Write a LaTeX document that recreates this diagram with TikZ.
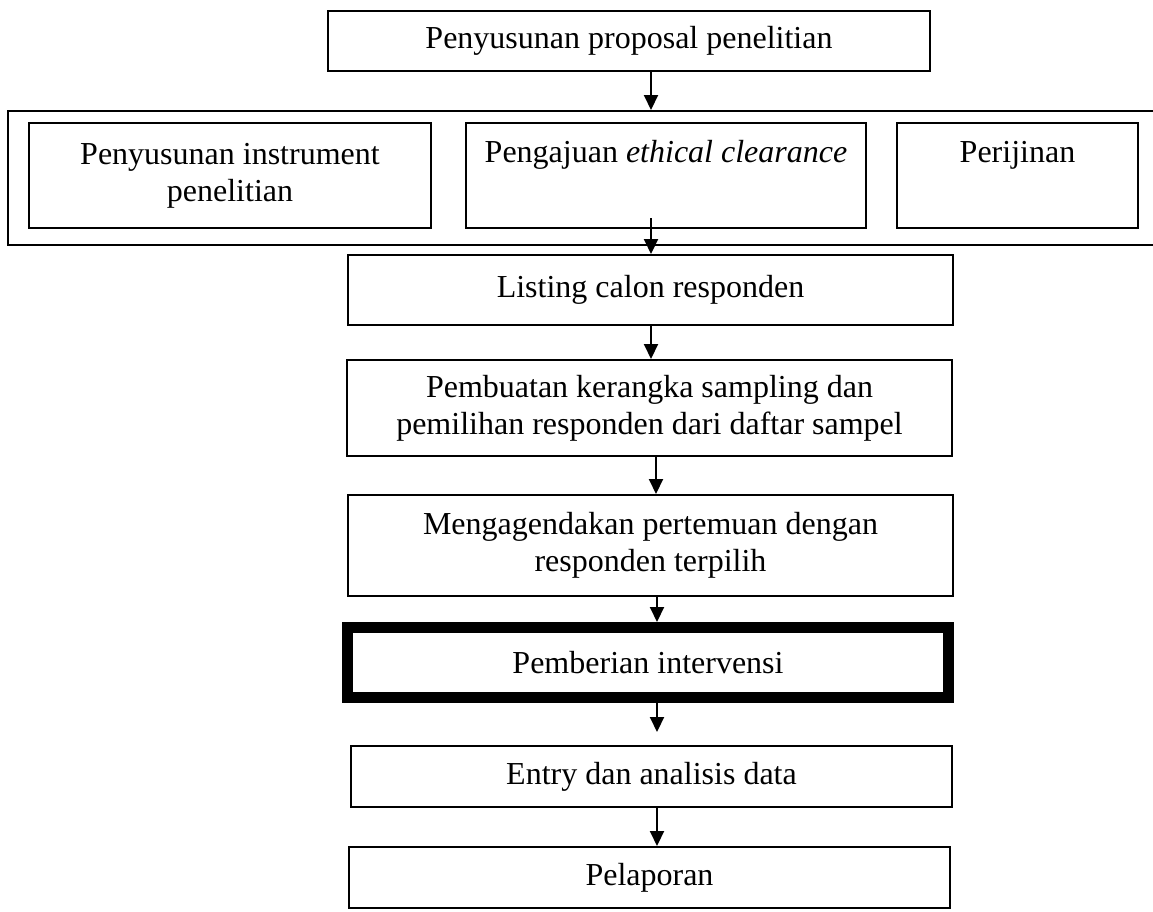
\documentclass[tikz,border=0pt]{standalone}
\usepackage{fontspec}
\setmainfont{Liberation Serif}
\usetikzlibrary{arrows.meta}
\begin{document}
\begin{tikzpicture}[x=1pt,y=-1pt,
  box/.style={draw, line width=2pt, inner sep=0pt, align=center, font=\fontsize{32}{37}\selectfont},
  thickbox/.style={box, line width=11pt},
  arr/.style={line width=2pt, -{Triangle[length=15pt,width=14pt]}}]
\useasboundingbox (0,0) rectangle (1153,911);
% top box
\node[box, minimum width=602pt, minimum height=60pt] (p1) at (629,41) {Penyusunan proposal penelitian};
% outer group box
\node[box, minimum width=1157pt, minimum height=134pt] (outer) at (586.5,178) {};
\node[box, minimum width=402pt, minimum height=105pt] (A) at (230,175.5) {Penyusunan instrument\\penelitian};
\node[box, minimum width=400pt, minimum height=105pt] (B) at (666,175.5) {Pengajuan \textit{ethical clearance}\\\strut};
\node[box, minimum width=241pt, minimum height=105pt] (C) at (1017.5,175.5) {Perijinan\\\strut};
% chain
\node[box, minimum width=605pt, minimum height=70pt] (L) at (650.5,290) {Listing calon responden};
\node[box, minimum width=605pt, minimum height=96pt] (P) at (649.5,408) {Pembuatan kerangka sampling dan\\pemilihan responden dari daftar sampel};
\node[box, minimum width=605pt, minimum height=101pt] (M) at (650.5,545.5) {Mengagendakan pertemuan dengan\\responden terpilih};
\node[thickbox, minimum width=601pt, minimum height=70pt] (I) at (648,662.5) {Pemberian intervensi};
\node[box, minimum width=601pt, minimum height=61pt] (E) at (651.5,776.5) {Entry dan analisis data};
\node[box, minimum width=601pt, minimum height=61pt] (R) at (649.5,877.5) {Pelaporan};
% arrow guides
\coordinate (a1) at (651,0);
\coordinate (s2) at (651,218);
\coordinate (a3) at (651,0);
\coordinate (a4) at (656,0);
\coordinate (a5) at (657,0);
\coordinate (e6) at (657,732);
\draw[arr] (p1.south -| a1) -- (outer.north -| a1);
\draw[arr] (s2) -- (L.north -| s2);
\draw[arr] (L.south -| a3) -- (P.north -| a3);
\draw[arr] (P.south -| a4) -- (M.north -| a4);
\draw[arr] (M.south -| a5) -- (I.north -| a5);
\draw[arr] (I.south -| e6) -- (e6);
\draw[arr] (E.south -| a5) -- (R.north -| a5);
\end{tikzpicture}
\end{document}
